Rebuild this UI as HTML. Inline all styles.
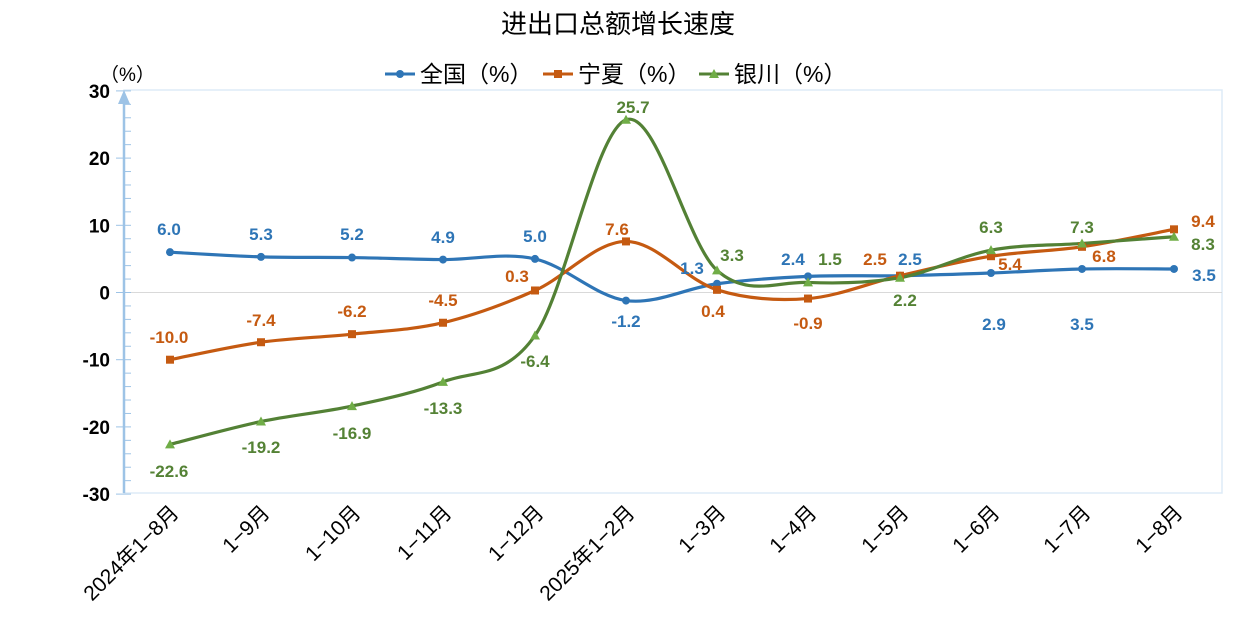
<!DOCTYPE html>
<html><head><meta charset="utf-8"><style>
html,body{margin:0;padding:0;background:#fff;}
svg{display:block;font-family:"Liberation Sans","Noto Sans CJK SC",sans-serif;}
</style></head><body>
<svg id="s" width="1236" height="640" viewBox="0 0 1236 640" xmlns="http://www.w3.org/2000/svg">
<text x="618" y="33" font-size="26" text-anchor="middle" fill="#000">进出口总额增长速度</text>
<text x="100" y="81" font-size="19" fill="#000">（%）</text>
<g font-size="23" fill="#000">
<line x1="385" y1="74" x2="415" y2="74" stroke="#2E75B6" stroke-width="3"/><circle cx="400" cy="74" r="4" fill="#2E75B6"/>
<text x="420" y="82">全国（%）</text>
<line x1="543" y1="74" x2="573" y2="74" stroke="#C55A11" stroke-width="3"/><rect x="554" y="70" width="8" height="8" fill="#C55A11"/>
<text x="578" y="82">宁夏（%）</text>
<line x1="699" y1="74" x2="729" y2="74" stroke="#538135" stroke-width="3"/><polygon points="714,69 719,78 709,78" fill="#70AD47"/>
<text x="734" y="82">银川（%）</text>
</g>
<rect x="124" y="90" width="1098" height="403" fill="none" stroke="#DDEBF7" stroke-width="1.5"/>
<line x1="124" y1="292.5" x2="1222" y2="292.5" stroke="#D9D9D9" stroke-width="1"/>
<g id="ax"></g>
<g id="series"></g>
<g id="labels" font-size="17" font-weight="bold" text-anchor="middle"></g>
<g id="xl" font-size="21" fill="#000" text-anchor="end"></g>
</svg>
<script>
const NS="http://www.w3.org/2000/svg";
const xs=[170,261,352,443,535,626,717,808,900,991,1082,1174];
const Y=v=>292.5-v*6.72;
function el(t,a,p,txt){const e=document.createElementNS(NS,t);for(const k in a)e.setAttribute(k,a[k]);if(txt!==undefined)e.textContent=txt;p.appendChild(e);return e;}
const ax=document.getElementById('ax');
el('line',{x1:124,y1:96,x2:124,y2:493,stroke:'#9DC3E6','stroke-width':2.5},ax);
el('polygon',{points:'124,90 118,104 130,104',fill:'#9DC3E6'},ax);
for(let v=-30;v<=30;v+=2){const y=Y(v);if(v%10==0){el('line',{x1:116,y1:y,x2:131,y2:y,stroke:'#9DC3E6','stroke-width':1},ax);el('text',{x:110,y:y+7,'font-size':19,'font-weight':'bold','text-anchor':'end',fill:'#000'},ax,String(v));}else el('line',{x1:124,y1:y,x2:131,y2:y,stroke:'#9DC3E6','stroke-width':1},ax);}
const data={
b:[6.0,5.3,5.2,4.9,5.0,-1.2,1.3,2.4,2.5,2.9,3.5,3.5],
o:[-10.0,-7.4,-6.2,-4.5,0.3,7.6,0.4,-0.9,2.5,5.4,6.8,9.4],
g:[-22.6,-19.2,-16.9,-13.3,-6.4,25.7,3.3,1.5,2.2,6.3,7.3,8.3]};
const cols={b:'#2E75B6',o:'#C55A11',g:'#538135'};
const sg=document.getElementById('series');
function path(v){const p=v.map((d,i)=>[xs[i],Y(d)]);let s=`M${p[0][0]},${p[0][1]}`;for(let i=0;i<p.length-1;i++){const p0=p[i-1]||p[i],p1=p[i],p2=p[i+1],p3=p[i+2]||p2;const c1=[p1[0]+(p2[0]-p0[0])/6,p1[1]+(p2[1]-p0[1])/6],c2=[p2[0]-(p3[0]-p1[0])/6,p2[1]-(p3[1]-p1[1])/6];s+=`C${c1[0]},${c1[1]} ${c2[0]},${c2[1]} ${p2[0]},${p2[1]}`;}return s;}
['b','o','g'].forEach(k=>{el('path',{d:path(data[k]),fill:'none',stroke:cols[k],'stroke-width':3.2},sg);});
['b','o','g'].forEach(k=>{data[k].forEach((v,i)=>{const x=xs[i],y=Y(v);if(k=='b')el('circle',{cx:x,cy:y,r:4,fill:'#2E75B6'},sg);else if(k=='o')el('rect',{x:x-4,y:y-4,width:8,height:8,fill:'#C55A11'},sg);else el('polygon',{points:`${x},${y-5} ${x+5},${y+4} ${x-5},${y+4}`,fill:'#70AD47'},sg);});});
const L=document.getElementById('labels');
const lab=[
['#2E75B6',[[169,229,'6.0'],[261,234,'5.3'],[352,234,'5.2'],[443,237,'4.9'],[535,236,'5.0'],[626,321,'-1.2'],[692,268,'1.3'],[793,259,'2.4'],[910,259,'2.5'],[994,324,'2.9'],[1082,324,'3.5'],[1204,275,'3.5']]],
['#C55A11',[[169,337,'-10.0'],[261,320,'-7.4'],[352,311,'-6.2'],[443,300,'-4.5'],[517,276,'0.3'],[617,229,'7.6'],[713,311,'0.4'],[808,323,'-0.9'],[875,259,'2.5'],[1010,264,'5.4'],[1104,256,'6.8'],[1203,221,'9.4']]],
['#548235',[[169,471,'-22.6'],[261,447,'-19.2'],[352,433,'-16.9'],[443,408,'-13.3'],[535,361,'-6.4'],[633,107,'25.7'],[732,255,'3.3'],[830,259,'1.5'],[905,300,'2.2'],[991,227,'6.3'],[1082,227,'7.3'],[1203,244,'8.3']]]];
lab.forEach(([c,a])=>a.forEach(([x,y,t])=>el('text',{x:x,y:y+6,fill:c},L,t)));
const XL=document.getElementById('xl');
const xt=['2024年1−8月','1−9月','1−10月','1−11月','1−12月','2025年1−2月','1−3月','1−4月','1−5月','1−6月','1−7月','1−8月'];
xt.forEach((t,i)=>el('text',{transform:`translate(${xs[i]+10},${514}) rotate(-45)`},XL,t));
</script>
</body></html>
